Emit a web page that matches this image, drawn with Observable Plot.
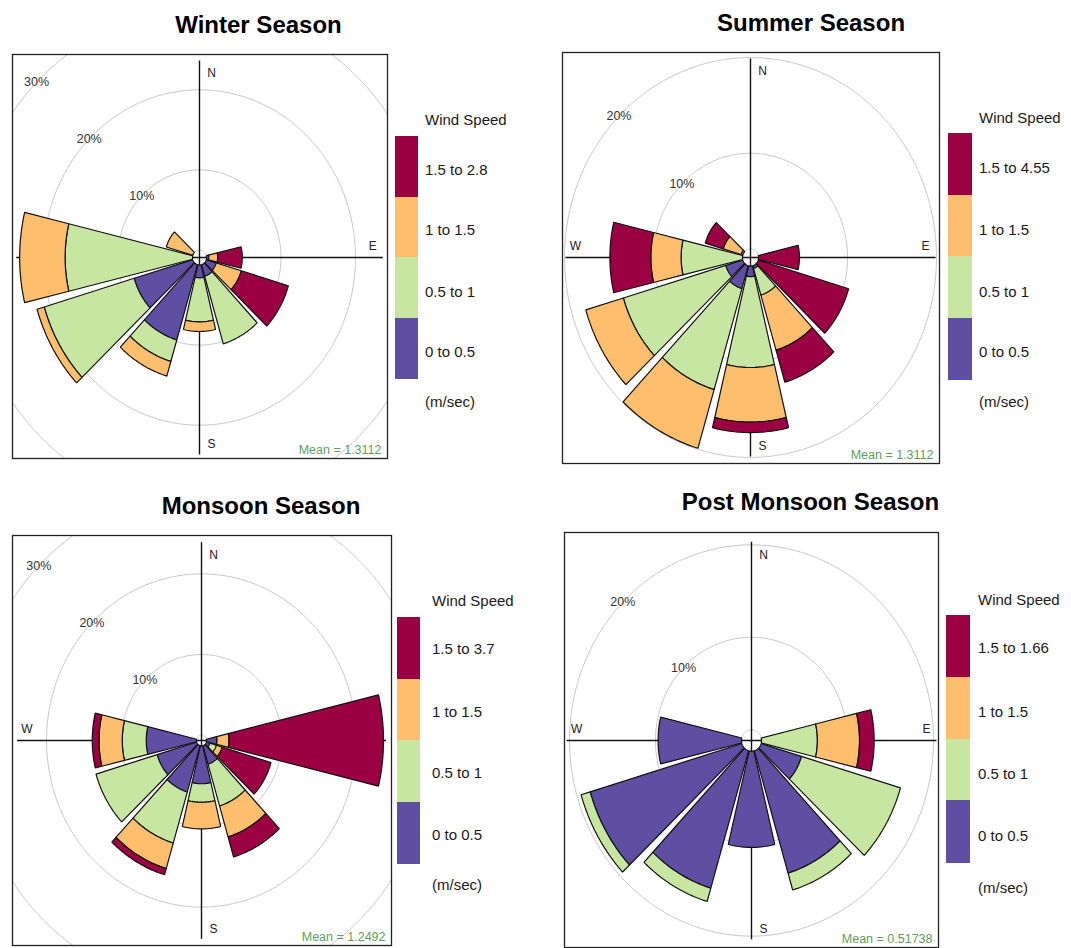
<!DOCTYPE html>
<html><head><meta charset="utf-8">
<script src="https://cdn.jsdelivr.net/npm/d3@7"></script>
<script src="https://cdn.jsdelivr.net/npm/@observablehq/plot@0.6"></script>
<style>
body{margin:0;background:#fff;font-family:"Liberation Sans",Arial,sans-serif;}
#root{position:relative;width:1071px;height:948px;overflow:hidden;background:#fff;}
.abs{position:absolute;white-space:nowrap;line-height:1;}
.title{font-weight:bold;font-size:24px;color:#000;transform:translateX(-50%);}
.leg{font-size:15px;color:#1a1a1a;}
</style></head><body><div id="root"></div>
<script>
// ---------- DATA ----------
const directions = [0, 30, 60, 90, 120, 150, 180, 210, 240, 270, 300, 330];
const speedBins = ["0 to 0.5", "0.5 to 1", "1 to 1.5", "1.5+"];
const legendHeader = "Wind Speed";
const legendUnit = "(m/sec)";

// frequency (%) per direction and wind-speed bin
const winter_0_05 = [0, 0, 0, 0.3, 1.4, 1.5, 1.6, 9.8, 8.2, 0, 0, 0];
const winter_05_1 = [0, 0, 0, 0, 0, 8.8, 5.5, 2.8, 12.6, 17.1, 0, 0];
const winter_1_15 = [0, 0, 0, 1.2, 3.5, 0, 1.2, 1.9, 1.0, 6.1, 3.7, 0];
const winter_15up = [0, 0, 0, 3.3, 6.6, 0, 0, 0, 0, 0, 0, 0];

const summer_0_05 = [0, 0, 0, 0, 0, 0.3, 1.1, 2.5, 2.0, 0, 0, 0];
const summer_05_1 = [0, 0, 0, 0, 0, 2.9, 9.5, 11.0, 12.0, 6.9, 0.2, 0];
const summer_1_15 = [0, 0, 0, 0, 0, 6.0, 5.7, 6.4, 4.4, 3.4, 2.1, 0];
const summer_15up = [0, 0, 0, 4.6, 10.6, 3.5, 1.1, 0, 0, 4.6, 2.1, 0];

const monsoon_0_05 = [0, 0, 0, 1.4, 0.5, 2.4, 4.7, 6.0, 5.5, 6.7, 0, 0];
const monsoon_05_1 = [0, 0, 0, 0, 0.9, 5.4, 2.3, 6.6, 8.5, 3.2, 0, 0];
const monsoon_1_15 = [0, 0, 0, 1.6, 0.8, 4.0, 3.3, 3.3, 0, 3.1, 0, 0];
const monsoon_15up = [0, 0, 0, 20.6, 6.8, 2.6, 0, 0.8, 0, 0.9, 0, 0];

const post_0_05 = [0, 0, 0, 0, 4.9, 13.8, 10.4, 15.5, 18.4, 9.7, 0, 0];
const post_05_1 = [0, 0, 0, 6.5, 12.0, 1.9, 0, 1.5, 1.1, 0, 0, 0];
const post_1_15 = [0, 0, 0, 4.9, 0, 0, 0, 0, 0, 0, 0, 0];
const post_15up = [0, 0, 0, 1.7, 0, 0, 0, 0, 0, 0, 0, 0];

const seasonTitles = ["Winter Season", "Summer Season", "Monsoon Season", "Post Monsoon Season"];
const topBinLabels = ["1.5 to 2.8", "1.5 to 4.55", "1.5 to 3.7", "1.5 to 1.66"];
const meanLabels = ["Mean = 1.3112", "Mean = 1.3112", "Mean = 1.2492", "Mean = 0.51738"];
const ringTicks = [[10, 20, 30], [10, 20], [10, 20, 30], [10, 20]];
const compass = ["N", "E", "S", "W"];

const seasonBins = [
  [winter_0_05, winter_05_1, winter_1_15, winter_15up],
  [summer_0_05, summer_05_1, summer_1_15, summer_15up],
  [monsoon_0_05, monsoon_05_1, monsoon_1_15, monsoon_15up],
  [post_0_05, post_05_1, post_1_15, post_15up]
];

// ---------- STYLE / LAYOUT ----------
const colors = ["#5E4FA2", "#C6E6A2", "#FDBE6E", "#9B0042"];
const halfWidth = 13.5;
const layout = [
  {frame: [12, 54, 387, 458], center: [199, 257], k: 7.45, hole: 7, sy: 1.075, axis: 24.6,
   title: [258.5, 13], legend: {bx: 395, by: 136, bw: 23, bh: 60.6, tx: 425, head: 112, unit: 394, lab: [162, 222, 284, 344]}},
  {frame: [562, 52, 939, 463], center: [750, 257], k: 8.9, hole: 8, sy: 1.075, axis: 20.8,
   title: [811, 11], legend: {bx: 948, by: 133, bw: 24, bh: 61.7, tx: 979, head: 110, unit: 394, lab: [160, 222, 284, 344]}},
  {frame: [12, 535, 391, 945], center: [201, 740], k: 7.5, hole: 5, sy: 1.075, axis: 24.6,
   title: [261, 494], legend: {bx: 397, by: 617, bw: 23, bh: 61.5, tx: 432, head: 593, unit: 877, lab: [641, 704, 765, 827]}},
  {frame: [564, 532, 938, 947], center: [751, 740], k: 8.6, hole: 10, sy: 1.075, axis: 21.5,
   title: [810.5, 490], legend: {bx: 946, by: 615, bw: 24, bh: 61.8, tx: 978, head: 592, unit: 880, lab: [640, 704, 766, 828]}}
];

const root = document.getElementById("root");
function addDiv(cls, text, left, top, extra) {
  const d = document.createElement("div");
  d.className = "abs " + cls;
  d.textContent = text;
  d.style.left = left + "px";
  d.style.top = top + "px";
  if (extra) Object.assign(d.style, extra);
  root.appendChild(d);
  return d;
}
const rad = (a) => a * Math.PI / 180;

seasonBins.forEach((bins, si) => {
  const lay = layout[si];
  const [L, T, R, B] = lay.frame;
  const [cx, cy] = lay.center;
  const kx = lay.k, ky = lay.k * lay.sy;
  const hole = lay.hole / lay.k;
  const W = R - L, H = B - T;

  // wedge polygons
  const pts = [];
  directions.forEach((dir, i) => {
    let cum = 0;
    bins.forEach((arr, b) => {
      const v = arr[i];
      if (!(v > 0)) return;
      const r0 = hole + cum, r1 = hole + cum + v;
      cum += v;
      const id = dir + "-" + b;
      for (let a = dir - halfWidth; a <= dir + halfWidth + 1e-9; a += 1)
        pts.push({id, bin: speedBins[b], x: r0 * Math.sin(rad(a)), y: r0 * Math.cos(rad(a))});
      for (let a = dir + halfWidth; a >= dir - halfWidth - 1e-9; a -= 1)
        pts.push({id, bin: speedBins[b], x: r1 * Math.sin(rad(a)), y: r1 * Math.cos(rad(a))});
    });
  });

  // grid circles (hole + rings)
  const ringPts = [];
  [0, ...ringTicks[si]].forEach((v) => {
    for (let a = 0; a < 360; a += 2)
      ringPts.push({ring: v, x: (hole + v) * Math.sin(rad(a)), y: (hole + v) * Math.cos(rad(a))});
  });

  const comp = compass.map((c, j) => ({c, a: j * 90}));
  const compDx = {N: 12, E: -10, S: 12, W: 10};
  const compDy = {N: 13, E: -11, S: -10, W: -11};

  const chart = Plot.plot({
    width: W + 2, height: H + 2, margin: 1,
    x: {domain: [(L - cx) / kx, (R - cx) / kx], axis: null},
    y: {domain: [(cy - B) / ky, (cy - T) / ky], axis: null},
    color: {domain: speedBins, range: colors},
    style: {fontFamily: "Liberation Sans, Arial, sans-serif", background: "transparent", overflow: "visible"},
    marks: [
      Plot.line(ringPts, {x: "x", y: "y", z: "ring", stroke: "#c9c9c9", strokeWidth: 1, curve: "linear-closed", clip: true}),
      Plot.link(comp, {x1: 0, y1: 0,
        x2: (d) => lay.axis * Math.sin(rad(d.a)), y2: (d) => lay.axis * Math.cos(rad(d.a)),
        stroke: "#111", strokeWidth: 1.4}),
      ...comp.map((d) => Plot.text([d], {
        x: (e) => lay.axis * Math.sin(rad(e.a)), y: (e) => lay.axis * Math.cos(rad(e.a)),
        text: "c", dx: compDx[d.c], dy: compDy[d.c], fontSize: 12, fill: "#222"})),
      Plot.text(ringTicks[si], {
        x: (v) => -(hole + v) * Math.SQRT1_2, y: (v) => (hole + v) * Math.SQRT1_2,
        text: (v) => v + "%", fontSize: 12.5, fill: "#333"}),
      Plot.line(pts, {x: "x", y: "y", z: "id", fill: "bin", stroke: "#111", strokeWidth: 1.2,
        curve: "linear-closed", strokeLinejoin: "miter"}),
      Plot.text([meanLabels[si]], {x: (R - cx) / kx, y: (cy - B) / ky, text: (d) => d,
        textAnchor: "end", dx: -6, dy: -9, fontSize: 12.5, fill: "#5c9f5c"}),
      Plot.frame({stroke: "#222", strokeWidth: 1.3})
    ]
  });
  chart.style.position = "absolute";
  chart.style.left = (L - 1) + "px";
  chart.style.top = (T - 1) + "px";
  root.appendChild(chart);

  // title
  addDiv("title", seasonTitles[si], lay.title[0], lay.title[1]);

  // legend
  const lg = lay.legend;
  addDiv("leg", legendHeader, lg.tx, lg.head);
  const legendLabels = [topBinLabels[si], "1 to 1.5", "0.5 to 1", "0 to 0.5"];
  const legendColors = [colors[3], colors[2], colors[1], colors[0]];
  legendLabels.forEach((lab, j) => {
    const sw = document.createElement("div");
    sw.className = "abs";
    Object.assign(sw.style, {left: lg.bx + "px", top: (lg.by + j * lg.bh) + "px",
      width: lg.bw + "px", height: (lg.bh + 0.5) + "px", background: legendColors[j]});
    root.appendChild(sw);
    addDiv("leg", lab, lg.tx, lg.lab[j]);
  });
  addDiv("leg", legendUnit, lg.tx, lg.unit);
});
</script>
</body></html>
